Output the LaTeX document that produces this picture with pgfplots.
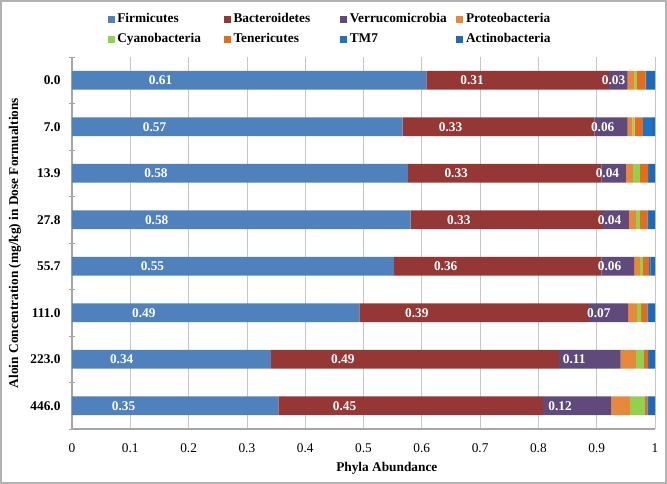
\documentclass[border=0pt]{standalone}
\usepackage{fontspec}
\setmainfont{Liberation Serif}
\usepackage{pgfplots}
\pgfplotsset{compat=1.18}
\usepackage{pgfplotstable}

\definecolor{cF}{RGB}{79,129,189}
\definecolor{cB}{RGB}{149,55,53}
\definecolor{cV}{RGB}{96,74,123}
\definecolor{cP}{RGB}{232,136,58}
\definecolor{cC}{RGB}{146,208,80}
\definecolor{cT}{RGB}{228,108,30}
\definecolor{cM}{RGB}{31,115,196}
\definecolor{cA}{RGB}{30,106,182}

\pgfplotstableread{
idx F B V P C T M A
0 0.608 0.313 0.032 0.012 0.004 0.015 0.002 0.014
1 0.567 0.329 0.057 0.008 0.004 0.014 0.016 0.005
2 0.576 0.332 0.042 0.012 0.012 0.014 0.002 0.010
3 0.581 0.330 0.044 0.012 0.007 0.013 0.003 0.010
4 0.552 0.356 0.056 0.010 0.005 0.011 0.002 0.008
5 0.493 0.394 0.067 0.015 0.007 0.011 0.003 0.010
6 0.341 0.494 0.106 0.026 0.014 0.007 0.002 0.010
7 0.354 0.454 0.117 0.032 0.026 0.004 0.003 0.010
}\datatable

\pgfplotsset{
  seglabel/.style={
    point meta=explicit,
    visualization depends on={rawx \as \rv},
    nodes near coords={\pgfmathprintnumber[fixed,fixed zerofill,precision=2]{\pgfplotspointmeta}},
    every node near coord/.style={anchor=center, text=white, font=\bfseries,
      shift={(axis direction cs:-0.25*\rv,0)}},
  },
}

\begin{document}
\begin{tikzpicture}
\begin{axis}[
  name=ax,
  scale only axis,
  width=437.25pt, height=279pt,
  xbar stacked,
  bar width=0.4,
  xmin=0, xmax=1,
  ymin=-0.5, ymax=7.5,
  y dir=reverse,
  ytick={0,1,2,3,4,5,6,7},
  yticklabels={0.0,7.0,13.9,27.8,55.7,111.0,223.0,446.0},
  yticklabel style={font=\bfseries, xshift=-3pt},
  ytick style={draw=none},
  minor ytick={-0.5,0.5,1.5,2.5,3.5,4.5,5.5,6.5,7.5},
  minor y tick style={draw=gray!70},
  minor tick length=4pt,
  tick align=outside,
  xtick={0,0.1,0.2,0.3,0.4,0.5,0.6,0.7,0.8,0.9,1},
  xticklabels={0,0.1,0.2,0.3,0.4,0.5,0.6,0.7,0.8,0.9,1},
  xtick style={draw=none},
  xticklabel style={yshift=-5pt},
  xmajorgrids,
  grid style={gray!45, line width=0.6pt},
  axis lines=left,
  axis line style={-, draw=gray!70, line width=0.8pt},
  /pgf/number format/assume math mode=true,
  xlabel={\bfseries Phyla Abundance},
  ylabel={\bfseries Aloin Concentration (mg/kg) in Dose Formualtions},
  every axis x label/.style={at={(axis description cs:0.54,-0.105)}, anchor=center},
  every axis y label/.style={at={(axis description cs:-0.098,0.5)}, anchor=center, rotate=90},
  legend columns=4,
  legend cell align=left,
  legend style={draw=none, fill=none, at={(axis description cs:0.46,1.075)}, anchor=center,
    font=\bfseries, row sep=2.5pt, /tikz/every even column/.append style={column sep=0pt}},
  legend image code/.code={\fill[#1] (0pt,-2.6pt) rectangle (5.2pt,2.6pt);},
]
\addplot[fill=cF, draw=none, seglabel] table[x=F, y=idx, meta=F]{\datatable};
\addplot[fill=cB, draw=none, seglabel] table[x=B, y=idx, meta=B]{\datatable};
\addplot[fill=cV, draw=none, seglabel] table[x=V, y=idx, meta=V]{\datatable};
\addplot[fill=cP, draw=none] table[x=P, y=idx]{\datatable};
\addplot[fill=cC, draw=none] table[x=C, y=idx]{\datatable};
\addplot[fill=cT, draw=none] table[x=T, y=idx]{\datatable};
\addplot[fill=cM, draw=none] table[x=M, y=idx]{\datatable};
\addplot[fill=cA, draw=none] table[x=A, y=idx]{\datatable};
\addlegendentry{\makebox[78pt][l]{Firmicutes}}
\addlegendentry{\makebox[78pt][l]{Bacteroidetes}}
\addlegendentry{\makebox[78pt][l]{Verrucomicrobia}}
\addlegendentry{\makebox[78pt][l]{Proteobacteria}}
\addlegendentry{\makebox[78pt][l]{Cyanobacteria}}
\addlegendentry{\makebox[78pt][l]{Tenericutes}}
\addlegendentry{\makebox[78pt][l]{TM7}}
\addlegendentry{\makebox[78pt][l]{Actinobacteria}}
\end{axis}
\draw[gray!60, line width=1.5pt]
  ([shift={(-53.25pt,-40.5pt)}]ax.south west) rectangle ([shift={(8.25pt,42pt)}]ax.north east);
\end{tikzpicture}
\end{document}
